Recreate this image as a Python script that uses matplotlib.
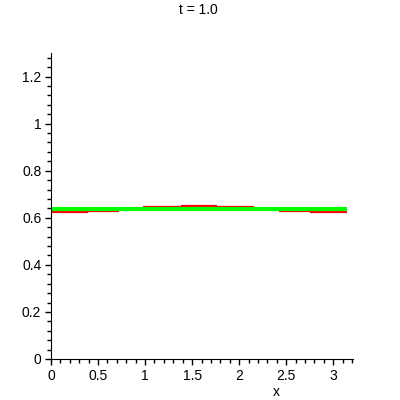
import matplotlib
matplotlib.use("Agg")
import matplotlib.pyplot as plt
from matplotlib.ticker import MultipleLocator
import numpy as np

# step approximation (red) breakpoints and values
breaks = [0.0, 0.39, 0.72, 0.98, 1.38, 1.76, 2.16, 2.42, 2.75, 3.1416]
step_vals = [0.625, 0.629, 0.637, 0.646, 0.650, 0.646, 0.637, 0.629, 0.625]
# exact average (green)
green_x = [0.0, 3.1416]
green_y = [0.6366, 0.6366]

xticks = [0, 0.5, 1, 1.5, 2, 2.5, 3]
xtick_labels = ["0", "0.5", "1", "1.5", "2", "2.5", "3"]
yticks = [0, 0.2, 0.4, 0.6, 0.8, 1.0, 1.2]
ytick_labels = ["0", "0.2", "0.4", "0.6", "0.8", "1", "1.2"]

plt.rcParams['font.family'] = ['Liberation Sans', 'DejaVu Sans']

fig = plt.figure(figsize=(4, 4), dpi=100)
ax = fig.add_axes([51/400, 1-359/400, 302/400, 306/400])

ax.hlines(step_vals, breaks[:-1], breaks[1:], colors='#ff0000', linewidth=1.6)
ax.plot(green_x, green_y, color='#00ff00', linewidth=3.0, solid_capstyle='butt')

ax.set_xlim(0, 3.21)
ax.set_ylim(0, 1.30)
ax.spines['top'].set_visible(False)
ax.spines['right'].set_visible(False)
ax.set_xticks(xticks)
ax.set_xticklabels(xtick_labels)
ax.set_yticks(yticks)
ax.set_yticklabels(ytick_labels)
ax.xaxis.set_minor_locator(MultipleLocator(0.1))
ax.yaxis.set_minor_locator(MultipleLocator(0.04))
ax.tick_params(which='major', length=4, width=1, labelsize=10, pad=3)
ax.tick_params(which='minor', length=3, width=1)
ax.patch.set_alpha(0)

fig.text(198/400, 1-10/400, 't = 1.0', ha='center', va='center', fontsize=10)
fig.text(276/400, 1-392/400, 'x', ha='center', va='center', fontsize=10)

fig.savefig('out.png', dpi=100)
